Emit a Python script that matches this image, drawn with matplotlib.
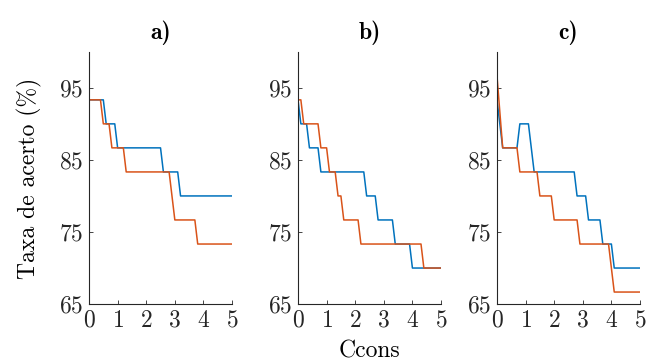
import matplotlib
matplotlib.use("Agg")
import matplotlib.pyplot as plt

plt.rcParams.update({"font.family": "cmr10", "mathtext.fontset": "cm",
                     "axes.formatter.use_mathtext": True})

BLUE = "#0072BD"
ORANGE = "#D95319"

# panel a)
a_blue_x = [0, 0.5, 0.6, 0.9, 1.0, 2.5, 2.6, 3.1, 3.2, 5]
a_blue_y = [93.33, 93.33, 90, 90, 86.67, 86.67, 83.33, 83.33, 80, 80]
a_orange_x = [0, 0.4, 0.5, 0.7, 0.8, 1.2, 1.3, 2.8, 3.0, 3.7, 3.8, 5]
a_orange_y = [93.33, 93.33, 90, 90, 86.67, 86.67, 83.33, 83.33, 76.67, 76.67, 73.33, 73.33]

# panel b)
b_blue_x = [0, 0.1, 0.3, 0.4, 0.7, 0.8, 2.3, 2.4, 2.7, 2.8, 3.3, 3.4, 3.9, 4.0, 5]
b_blue_y = [93.33, 90, 90, 86.67, 86.67, 83.33, 83.33, 80, 80, 76.67, 76.67, 73.33, 73.33, 70, 70]
b_orange_x = [0, 0.1, 0.2, 0.7, 0.8, 1.0, 1.1, 1.3, 1.4, 1.5, 1.6, 2.1, 2.2, 4.3, 4.4, 5]
b_orange_y = [93.33, 93.33, 90, 90, 86.67, 86.67, 83.33, 83.33, 80, 80, 76.67, 76.67,
              73.33, 73.33, 70, 70]

# panel c)
c_blue_x = [0, 0.2, 0.7, 0.8, 1.1, 1.3, 2.7, 2.8, 3.1, 3.2, 3.6, 3.7, 4.0, 4.1, 5]
c_blue_y = [93.33, 86.67, 86.67, 90, 90, 83.33, 83.33, 80, 80, 76.67, 76.67, 73.33, 73.33, 70, 70]
c_orange_x = [0, 0.2, 0.7, 0.8, 1.4, 1.5, 1.9, 2.0, 2.8, 2.9, 3.9, 4.1, 5]
c_orange_y = [96.67, 86.67, 86.67, 83.33, 83.33, 80, 80, 76.67, 76.67, 73.33, 73.33, 66.67, 66.67]

titles = ["a)", "b)", "c)"]
panels = [(a_blue_x, a_blue_y, a_orange_x, a_orange_y),
          (b_blue_x, b_blue_y, b_orange_x, b_orange_y),
          (c_blue_x, c_blue_y, c_orange_x, c_orange_y)]
xticks = [0, 1, 2, 3, 4, 5]
yticks = [65, 75, 85, 95]

fig = plt.figure(figsize=(6.46, 3.62), dpi=100)
lefts = [0.1378, 0.4613, 0.7693]
axes = []
for left, title, (bx, by, ox, oy) in zip(lefts, titles, panels):
    ax = fig.add_axes([left, 0.160, 0.2214, 0.697])
    ax.plot(bx, by, color=BLUE, lw=1.1)
    ax.plot(ox, oy, color=ORANGE, lw=1.1)
    ax.set_xlim(0, 5)
    ax.set_ylim(65, 100)
    ax.set_xticks(xticks)
    ax.set_yticks(yticks)
    ax.spines["top"].set_visible(False)
    ax.spines["right"].set_visible(False)
    for s in ("left", "bottom"):
        ax.spines[s].set_linewidth(0.8)
        ax.spines[s].set_color("#262626")
    ax.tick_params(direction="in", length=3, width=0.6, labelsize=17,
                   colors="#262626", pad=4)
    ax.set_title(title, fontsize=17, fontfamily="cmb10", pad=9)
    axes.append(ax)

axes[0].set_ylabel("Taxa de acerto (%)", fontsize=17, labelpad=12)
axes[1].set_xlabel("Ccons", fontsize=17, labelpad=6)

fig.savefig("out.png", dpi=100)
